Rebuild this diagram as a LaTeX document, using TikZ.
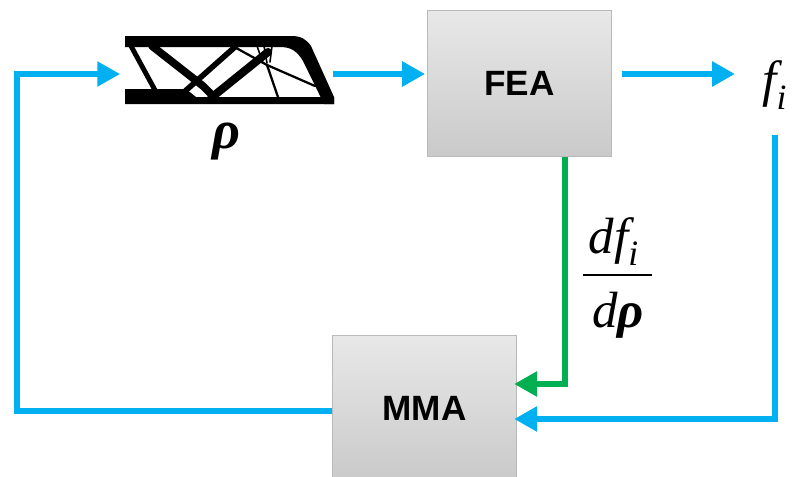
\documentclass[tikz,border=0pt]{standalone}
\usepackage{amsmath}
\usepackage{fontspec}
\setmainfont{Liberation Serif}
\newfontfamily\boxfont{Liberation Sans}
\usetikzlibrary{arrows.meta,calc}
\definecolor{flowblue}{RGB}{0,176,240}
\definecolor{flowgreen}{RGB}{0,176,80}
\begin{document}
\begin{tikzpicture}[x=0.02cm,y=-0.02cm,
  stage/.style={draw=gray!55, line width=0.6pt, top color=gray!18, bottom color=gray!42,
    minimum width=104.9pt, minimum height=83.3pt, inner sep=0pt,
    font=\boxfont\bfseries\fontsize{20}{24}\selectfont},
  tip/.style={-{Triangle[length=13pt,width=13.6pt]}},
  flow/.style={draw=flowblue, line width=3.2pt, tip},
  grad/.style={draw=flowgreen, line width=3.2pt, tip},
  member/.style={line width=#1, line cap=round},
  lbl/.style={font=\fontsize{29}{34}\selectfont, inner sep=0pt},
]
\useasboundingbox (0,0) rectangle (795,477);
\clip (0,0) rectangle (795,477);

% processing stages
\node[stage] (fea) at (519.5,83.5) {FEA};
\node[stage] (mma) at (424.5,408.5) {MMA};

% optimised truss (design field rho)
\node[minimum width=117.9pt, minimum height=42pt, inner sep=0pt] (truss) at (229,74) {};
\begin{scope}[fill=black, draw=black]
  % top chord running into the rounded, sloping right end
  \fill (125,36) -- (291,36) .. controls (301,36) and (306,39) .. (311,46)
        -- (334,97) -- (334,104) -- (324,104) -- (303,61)
        .. controls (297,51) and (291,47) .. (280,47) -- (125,47) -- cycle;
  % bottom chord, heavier on the left
  \fill (125,89) -- (186,89) -- (196,97) -- (334,97) -- (334,104) -- (125,104) -- cycle;
  % web members
  \draw[member=2.8pt] (131,46) -- (156,92);
  \draw[member=4.4pt] (152,46) -- (203,86) -- (214,97);
  \draw[member=3.2pt] (236,46) -- (183,93);
  \draw[member=4.6pt] (211,98) -- (268,52);
  \draw[member=1.3pt] (229,44) -- (267,65);
  \draw[member=1.3pt] (267,65) -- (279,100);
  \draw[member=1.3pt] (267,65) -- (315,86);
  \draw[member=0.9pt] (257,46) -- (263,63);
  \draw[member=0.9pt] (264,46) -- (267,63);
  \draw[member=0.9pt] (272,46) -- (270,62);
\end{scope}

% labels
\node[lbl, font=\fontsize{31}{36}\selectfont] (rho) at (227,142) {\textbf{\textit{ρ}}};
\node[lbl] (fi) at (775,85) {$\textit{f}_{\textit{i}}$};
\node[lbl, anchor=base] (num) at (614,253) {$\textit{df}_{\textit{i}}$};
\node[lbl, anchor=base] (den) at (618,327) {\textit{d}\textbf{\textit{ρ}}};
\draw[line width=1.7pt] (583,275) -- (652,275);

% free ends of the output arrow
\coordinate (fiin) at (735,74);
\coordinate (fiout) at (775,135);

% connectors
\draw[flow, shorten >=1pt] (truss.east) -- (truss.east -| fea.west);
\draw[flow, shorten <=5.7pt] (fea.east |- truss.east) -- (fiin);
\draw[flow, shorten >=-1.7pt] (fiout) |- ($(mma.east)+(0,10.5)$);
\draw[grad, shorten >=-1.7pt] ($(fea.south)+(45.5,0)$) |- ($(mma.east)+(0,-24.5)$);
\draw[flow, shorten >=2.8pt] ($(mma.west)+(0,2.5)$) -- ++(-315,0) |- (truss.west);
\end{tikzpicture}
\end{document}
